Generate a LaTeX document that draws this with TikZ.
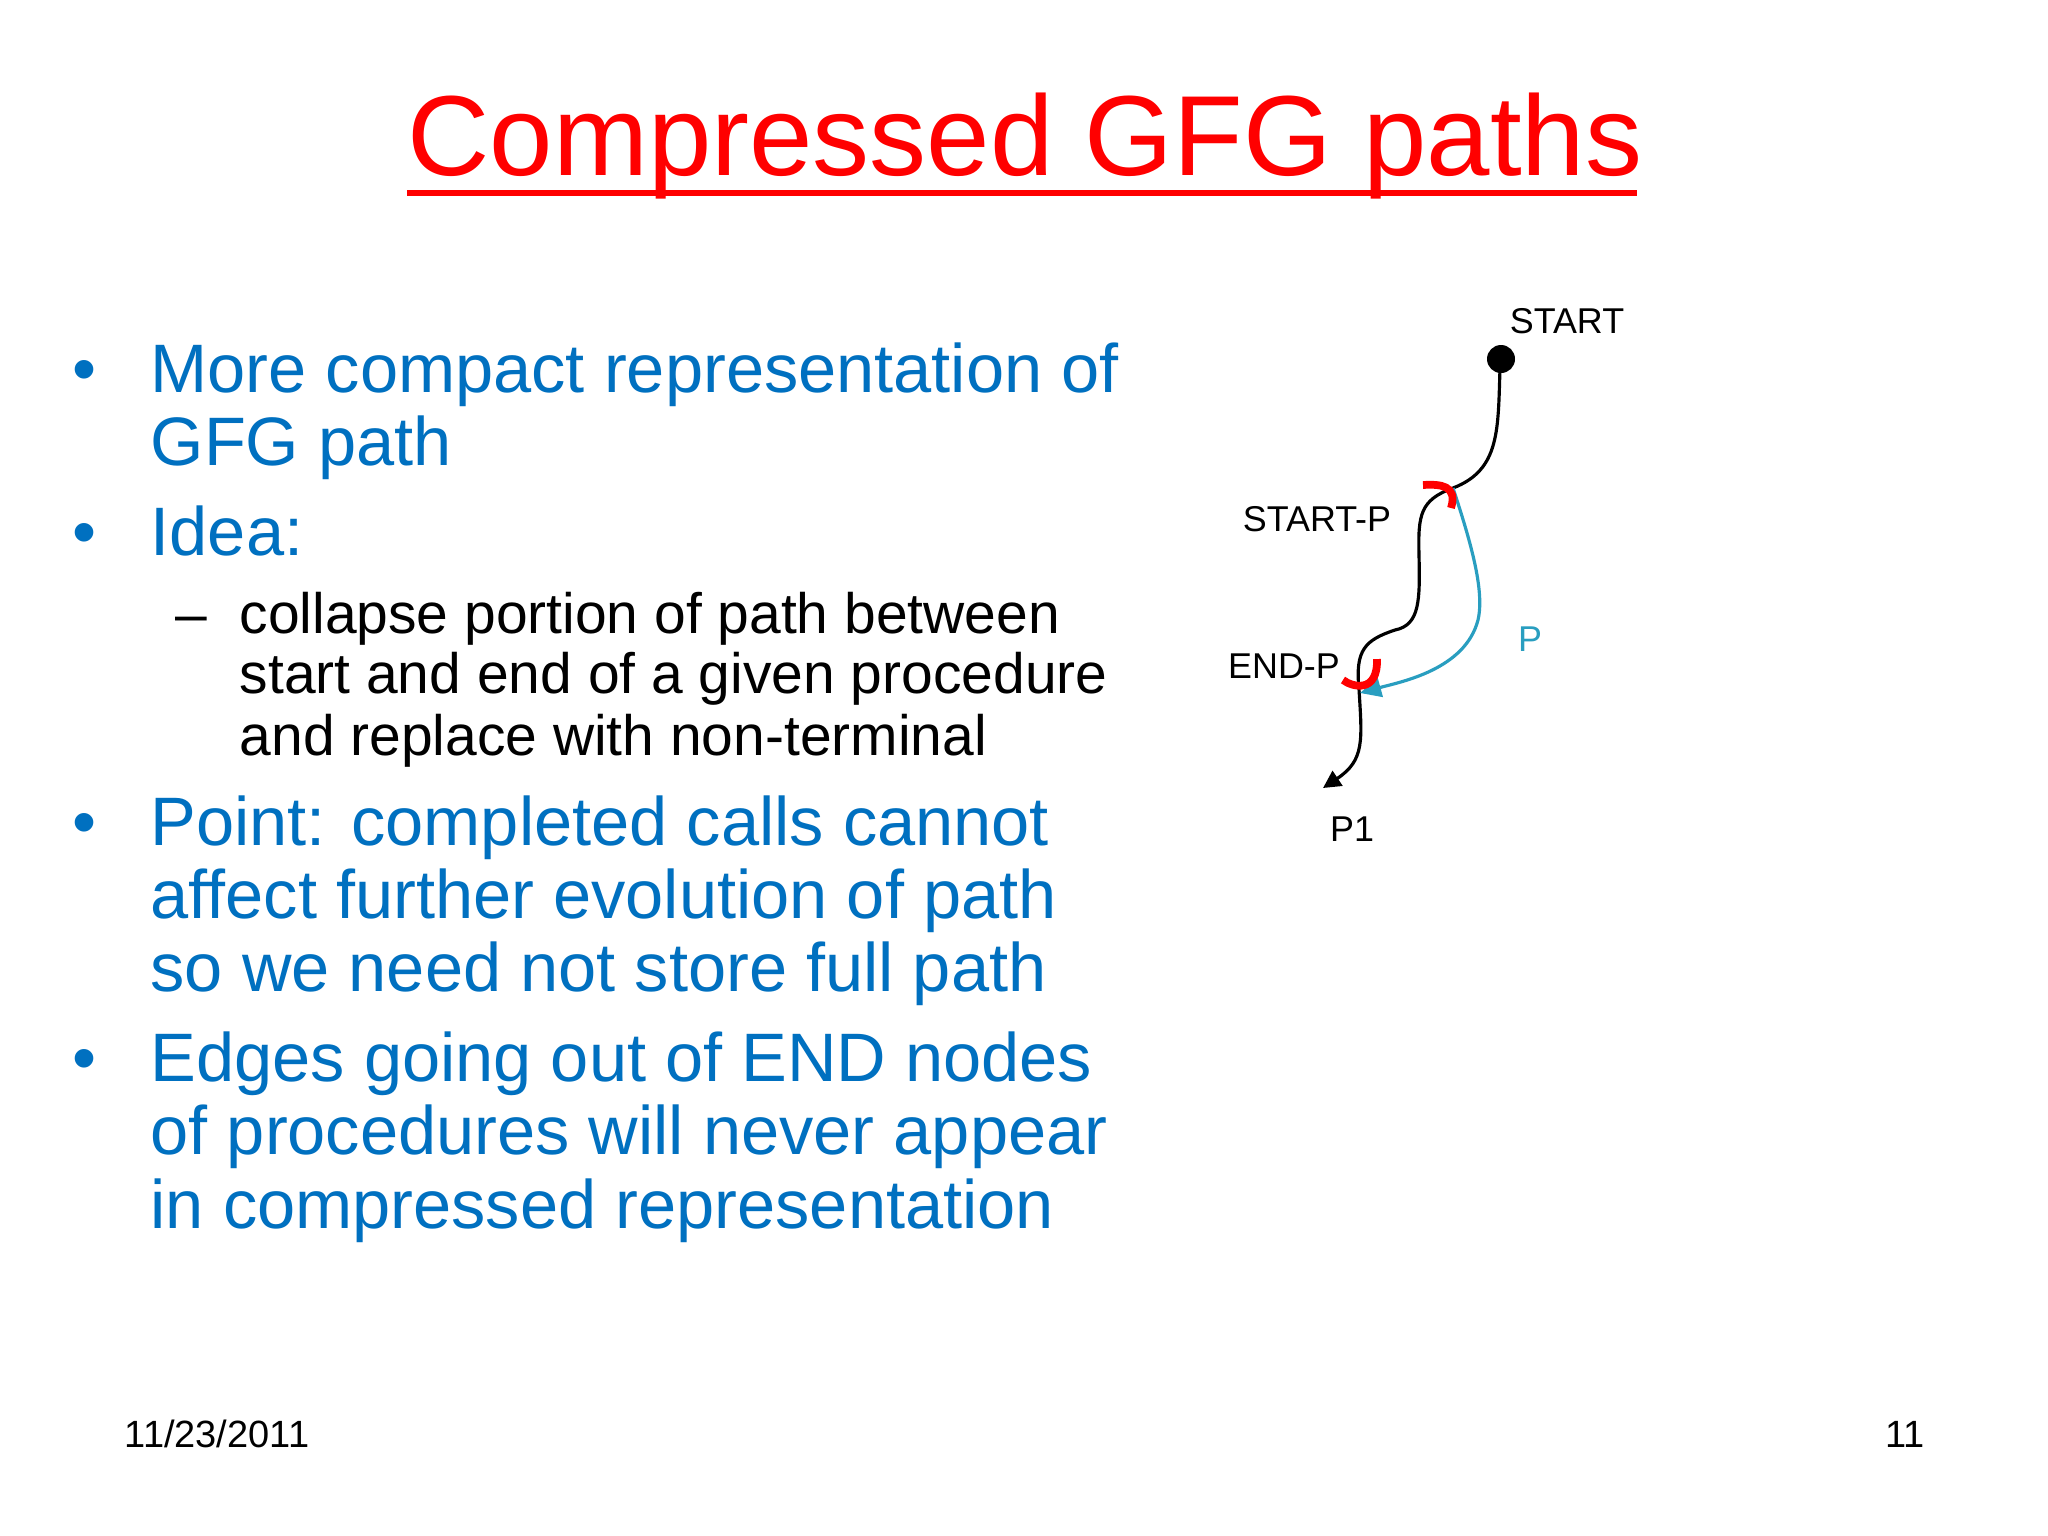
\documentclass[tikz,border=0pt]{standalone}
\usepackage{fontspec}
\setmainfont{Liberation Sans}
\usetikzlibrary{arrows.meta}
\definecolor{bul}{RGB}{0,112,192}
\definecolor{teal2}{RGB}{41,158,192}
\definecolor{ttl}{RGB}{255,0,0}
\tikzset{
  big/.style={anchor=base west,text=bul,font=\fontsize{19.5}{23}\selectfont,inner sep=0},
  small/.style={anchor=base west,text=black,font=\fontsize{16.2}{20}\selectfont,inner sep=0},
  lab/.style={font=\fontsize{10.2}{12}\selectfont,inner sep=0},
  redmark/.style={draw=red,line width=2.2pt},
}
\begin{document}
\begin{tikzpicture}[x=0.01cm,y=-0.01cm]
\useasboundingbox (0,0) rectangle (2048,1536);
\fill[white] (0,0) rectangle (2048,1536);
% title
\node[text=ttl,font=\fontsize{32.4}{38}\selectfont,inner sep=0,anchor=base] (title) at (1025,175) {Compressed GFG paths};
\draw[ttl,line width=1.5pt] (title.base west) ++(0,18) -- ++(1230,0);
% bullets
\foreach \n/\y in {b1/392,b2/555,b3/845,b4/1081}
  \node[big,anchor=base] (\n) at (85,\y) {•};
\node[big] (t1) at (150,392) {More compact representation of};
\node[big] (t2) at (150,465) {GFG path};
\node[big] (t3) at (150,555) {Idea:};
\node[small,anchor=base] (d1) at (191,633) {–};
\node[small] (s1) at (239,633) {collapse portion of path between};
\node[small] (s2) at (239,693) {start and end of a given procedure};
\node[small] (s3) at (239,755) {and replace with non-terminal};
\node[big] (t4) at (150,845) {Point: completed calls cannot};
\node[big] (t5) at (150,918) {affect further evolution of path};
\node[big] (t6) at (150,991) {so we need not store full path};
\node[big] (t7) at (150,1081) {Edges going out of END nodes};
\node[big] (t8) at (150,1154) {of procedures will never appear};
\node[big] (t9) at (150,1228) {in compressed representation};
% footer
\node[anchor=base west,inner sep=0,font=\fontsize{10.8}{13}\selectfont] (date) at (124,1447) {11/23/2011};
\node[anchor=base,inner sep=0,font=\fontsize{10.8}{13}\selectfont] (pg) at (1905,1447) {11};
% diagram
\fill (1501,359) circle (14);
\coordinate (start) at (1500,368);
\coordinate (sp) at (1453,488);
\coordinate (ep) at (1359,689);
\coordinate (p1end) at (1323,788);
\node[lab] (lstart) at (1567,321) {START};
\node[lab] (lsp) at (1317,519) {START-P};
\node[lab] (lep) at (1284,666) {END-P};
\node[lab] (lp1) at (1352,829) {P1};
\node[lab,text=teal2] (lp) at (1530,639) {P};
\draw[line width=0.9pt,-{Triangle[length=5pt,width=5pt]}]
  (start) .. controls (1498,430) and (1500,470) .. (sp)
  .. controls (1420,500) and (1418,515) .. (1419,555)
  .. controls (1420,600) and (1420,625) .. (1395,630)
  .. controls (1365,640) and (1355,650) .. (ep)
  .. controls (1362,740) and (1365,760) .. (p1end);
\draw[teal2,line width=0.9pt,-{Triangle[length=6pt,width=5.5pt]}]
  (sp) .. controls (1470,540) and (1485,590) .. (1478,620)
  .. controls (1465,670) and (1400,682) .. (1360,693);
\draw[redmark] (1423,485) .. controls (1440,484) and (1458,485) .. (1451,508);
\draw[redmark] (1343,680) .. controls (1352,687) and (1378,694) .. (1377,659);
\end{tikzpicture}
\end{document}
